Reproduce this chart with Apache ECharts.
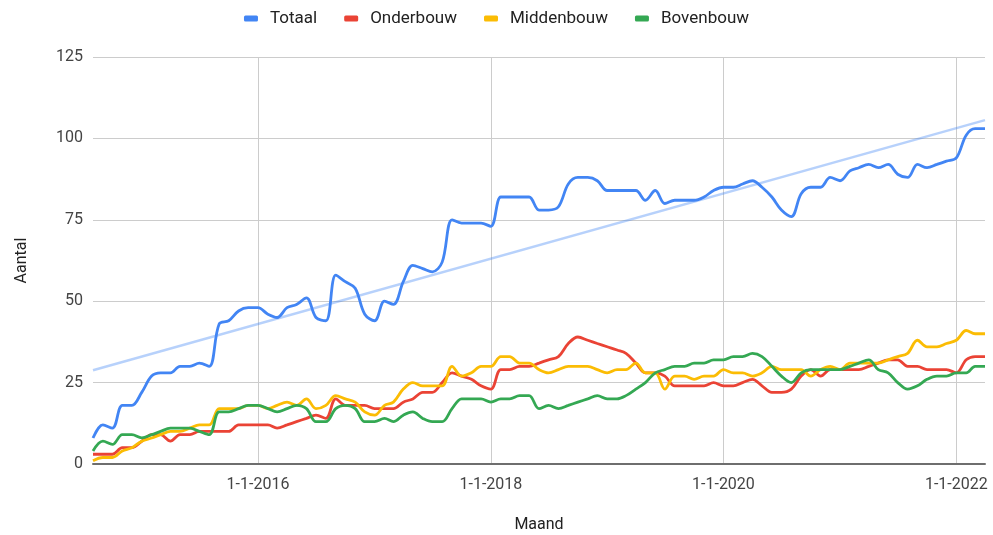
<!DOCTYPE html>
<html><head><meta charset="utf-8">
<script src="https://cdn.jsdelivr.net/npm/echarts@6/dist/echarts.min.js"></script>
<style>html,body{margin:0;padding:0;background:#fff}#c{width:993px;height:535px}</style>
</head><body><div id="c"></div>
<script>
// ---- data ----
const startYear = 2014, startMonth = 8; // first monthly point: 1-8-2014
const seriesNames = ['Totaal', 'Onderbouw', 'Middenbouw', 'Bovenbouw'];
const totaal = [8,12,11,18,18,22,27,28,28,30,30,31,30,43,44,47,48,48,46,45,48,49,51,45,44,58,56,54,46,44,50,49,56,61,60,59,62,75,74,74,74,73,82,82,82,82,78,78,79,86,88,88,87,84,84,84,84,81,84,80,81,81,81,82,84,85,85,86,87,85,82,78,76,83,85,85,88,87,90,91,92,91,92,89,88,92,91,92,93,94,101,103,103];
const onderbouw = [3,3,3,5,5,7,9,9,7,9,9,10,10,10,10,12,12,12,12,11,12,13,14,15,14,20,18,18,18,17,17,17,19,20,22,22,25,28,27,26,24,23,29,29,30,30,31,32,33,37,39,38,37,36,35,34,31,28,28,27,24,24,24,24,25,24,24,25,26,24,22,22,23,27,29,27,29,29,29,29,30,31,32,32,30,30,29,29,29,28,32,33,33];
const middenbouw = [1,2,2,4,5,7,8,9,10,10,11,12,12,17,17,17,18,18,17,18,19,18,20,17,18,21,20,19,16,15,18,19,23,25,24,24,24,30,27,28,30,30,33,33,31,31,29,28,29,30,30,30,29,28,29,29,31,28,28,23,27,27,26,27,27,29,28,28,27,28,30,29,29,29,27,29,30,29,31,31,31,31,32,33,34,38,36,36,37,38,41,40,40];
const bovenbouw = [4,7,6,9,9,8,9,10,11,11,11,10,9,16,16,17,18,18,17,16,17,18,17,13,13,17,18,17,13,13,14,13,15,16,14,13,13,17,20,20,20,19,20,20,21,21,17,18,17,18,19,20,21,20,20,21,23,25,28,29,30,30,31,31,32,32,33,33,34,33,30,27,25,28,29,29,29,29,30,31,32,29,28,25,23,24,26,27,27,28,28,30,30];
const trendDates = ['2014-08-01', '2022-04-01'];
const trendValues = [28.8, 105.6];
const xTickDates = ['2016-01-01', '2018-01-01', '2020-01-01', '2022-01-01'];
const xTickLabels = ['1-1-2016', '1-1-2018', '1-1-2020', '1-1-2022'];
const yMin = 0, yMax = 125, yStep = 25;
const colors = ['#4285F4', '#EA4335', '#FBBC04', '#34A853'];

// ---- build ----
function ts(d){ const p = d.split('-').map(Number); return Date.UTC(p[0], p[1] - 1, p[2]); }
const months = totaal.map((_, i) => {
  const m = startMonth - 1 + i;
  return Date.UTC(startYear + Math.floor(m / 12), m % 12, 1);
});
const values = [totaal, onderbouw, middenbouw, bovenbouw];
const tickTs = xTickDates.map(ts);

const chart = echarts.init(document.getElementById('c'), null, {renderer: 'canvas'});
const font = 'Roboto, Arial, sans-serif';
const series = values.map((vals, k) => ({
  name: seriesNames[k], type: 'line', smooth: 0.35, showSymbol: false,
  data: vals.map((v, i) => [months[i], v]),
  lineStyle: {width: 2.8, color: colors[k]}, itemStyle: {color: colors[k]},
  z: 3 + k
}));
series.unshift({
  name: 'Trend', type: 'line', showSymbol: false, silent: true,
  data: trendDates.map((d, i) => [ts(d), trendValues[i]]),
  lineStyle: {width: 2.5, color: 'rgba(66,133,244,0.38)'}, z: 2
});

chart.setOption({
  animation: false,
  color: colors,
  textStyle: {fontFamily: font},
  legend: {
    data: seriesNames, top: 5, left: 'center', icon: 'roundRect',
    itemWidth: 14, itemHeight: 6, itemGap: 27,
    textStyle: {fontSize: 17, color: '#222', fontFamily: font, padding: [0, 0, 0, 7]}
  },
  grid: {left: 93, right: 8, top: 57, bottom: 71, containLabel: false, outerBoundsMode: 'none'},
  xAxis: {
    type: 'value', min: months[0], max: months[months.length - 1],
    name: 'Maand', nameLocation: 'middle', nameGap: 53,
    nameTextStyle: {fontSize: 16, color: '#222', fontFamily: font},
    axisLine: {show: true, lineStyle: {color: '#6e6e6e', width: 2}},
    axisTick: {show: false, customValues: tickTs},
    splitLine: {show: true, lineStyle: {color: '#cccccc', width: 1}},
    axisLabel: {
      customValues: tickTs, fontSize: 16, color: '#444', margin: 13, fontFamily: font,
      hideOverlap: false,
      formatter: function (v) {
        const idx = tickTs.indexOf(v);
        return idx >= 0 ? xTickLabels[idx] : '';
      }
    }
  },
  yAxis: {
    type: 'value', min: yMin, max: yMax, interval: yStep,
    name: 'Aantal', nameLocation: 'middle', nameGap: 63,
    nameTextStyle: {fontSize: 16, color: '#222', fontFamily: font},
    axisLine: {show: false}, axisTick: {show: false},
    splitLine: {lineStyle: {color: '#cccccc', width: 1}},
    axisLabel: {fontSize: 16, color: '#444', margin: 10, fontFamily: font}
  },
  series: series
});
</script></body></html>
